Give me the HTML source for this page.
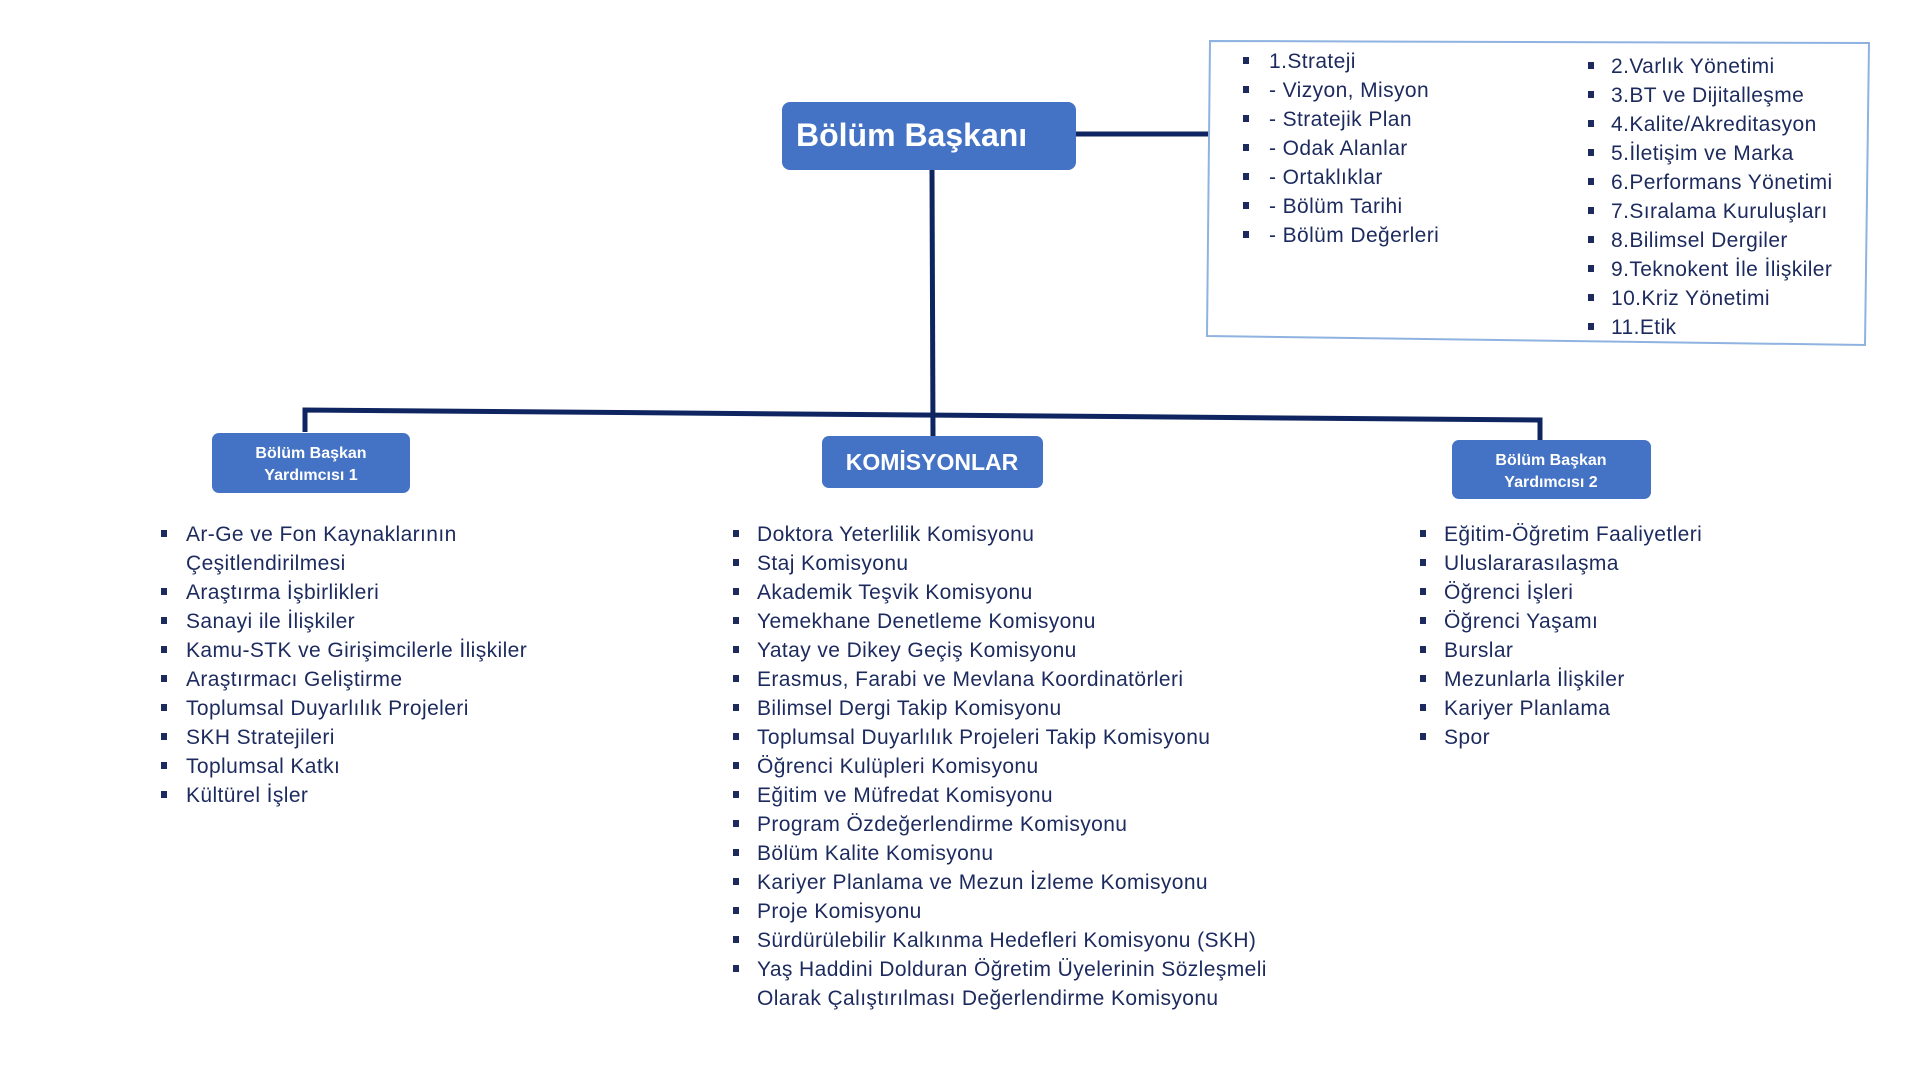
<!DOCTYPE html>
<html><head><meta charset="utf-8"><style>
html,body{margin:0;padding:0;background:#fff;}
svg{display:block;}
text{font-family:"Liberation Sans",sans-serif;}
.t{font-size:21px;letter-spacing:0.4px;fill:#1c2a5e;}
.b{fill:#1c2a5e;}
</style></head><body>
<svg width="1920" height="1080" viewBox="0 0 1920 1080" xmlns="http://www.w3.org/2000/svg">
<g stroke="#0e2561" fill="none" stroke-width="5">
<line x1="1076" y1="134" x2="1210" y2="134"/>
<line x1="932" y1="170" x2="933" y2="438"/>
<polyline points="305,432 305,410 1540,420 1540,440"/>
</g>
<polygon points="1210,41 1869,43 1865,345 1207,336" fill="#fff" stroke="#8fb3e0" stroke-width="2"/>
<rect x="782" y="102" width="294" height="68" rx="8" fill="#4472c4"/>
<text x="796" y="146" font-size="32" font-weight="bold" fill="#fff">Bölüm Başkanı</text>
<rect x="212" y="433" width="198" height="60" rx="7" fill="#4472c4"/>
<text x="311" y="458" font-size="16" font-weight="bold" fill="#fff" text-anchor="middle">Bölüm Başkan</text>
<text x="311" y="480" font-size="16" font-weight="bold" fill="#fff" text-anchor="middle">Yardımcısı 1</text>
<rect x="822" y="436" width="221" height="52" rx="7" fill="#4472c4"/>
<text x="932" y="470" font-size="23" font-weight="bold" fill="#fff" text-anchor="middle">KOMİSYONLAR</text>
<rect x="1452" y="440" width="199" height="59" rx="7" fill="#4472c4"/>
<text x="1551" y="465" font-size="16" font-weight="bold" fill="#fff" text-anchor="middle">Bölüm Başkan</text>
<text x="1551" y="487" font-size="16" font-weight="bold" fill="#fff" text-anchor="middle">Yardımcısı 2</text>

<g>
<text x="1269" y="68" class="t">1.Strateji</text>
<text x="1269" y="97" class="t">- Vizyon, Misyon</text>
<text x="1269" y="126" class="t">- Stratejik Plan</text>
<text x="1269" y="155" class="t">- Odak Alanlar</text>
<text x="1269" y="184" class="t">- Ortaklıklar</text>
<text x="1269" y="213" class="t">- Bölüm Tarihi</text>
<text x="1269" y="242" class="t">- Bölüm Değerleri</text>
</g>
<g class="b">
<rect x="1243" y="57" width="6" height="7"/><rect x="1243" y="86" width="6" height="7"/><rect x="1243" y="115" width="6" height="7"/><rect x="1243" y="144" width="6" height="7"/><rect x="1243" y="173" width="6" height="7"/><rect x="1243" y="202" width="6" height="7"/><rect x="1243" y="231" width="6" height="7"/>
</g>
<g>
<text x="1611" y="73" class="t">2.Varlık Yönetimi</text>
<text x="1611" y="102" class="t">3.BT ve Dijitalleşme</text>
<text x="1611" y="131" class="t">4.Kalite/Akreditasyon</text>
<text x="1611" y="160" class="t">5.İletişim ve Marka</text>
<text x="1611" y="189" class="t">6.Performans Yönetimi</text>
<text x="1611" y="218" class="t">7.Sıralama Kuruluşları</text>
<text x="1611" y="247" class="t">8.Bilimsel Dergiler</text>
<text x="1611" y="276" class="t">9.Teknokent İle İlişkiler</text>
<text x="1611" y="305" class="t">10.Kriz Yönetimi</text>
<text x="1611" y="334" class="t">11.Etik</text>
</g>
<g class="b">
<rect x="1588" y="62" width="6" height="7"/><rect x="1588" y="91" width="6" height="7"/><rect x="1588" y="120" width="6" height="7"/><rect x="1588" y="149" width="6" height="7"/><rect x="1588" y="178" width="6" height="7"/><rect x="1588" y="207" width="6" height="7"/><rect x="1588" y="236" width="6" height="7"/><rect x="1588" y="265" width="6" height="7"/><rect x="1588" y="294" width="6" height="7"/><rect x="1588" y="323" width="6" height="7"/>
</g>

<g>
<text x="186" y="541" class="t">Ar-Ge ve Fon Kaynaklarının</text>
<text x="186" y="570" class="t">Çeşitlendirilmesi</text>
<text x="186" y="599" class="t">Araştırma İşbirlikleri</text>
<text x="186" y="628" class="t">Sanayi ile İlişkiler</text>
<text x="186" y="657" class="t">Kamu-STK ve Girişimcilerle İlişkiler</text>
<text x="186" y="686" class="t">Araştırmacı Geliştirme</text>
<text x="186" y="715" class="t">Toplumsal Duyarlılık Projeleri</text>
<text x="186" y="744" class="t">SKH Stratejileri</text>
<text x="186" y="773" class="t">Toplumsal Katkı</text>
<text x="186" y="802" class="t">Kültürel İşler</text>
</g>
<g class="b">
<rect x="161" y="530" width="6" height="7"/><rect x="161" y="588" width="6" height="7"/><rect x="161" y="617" width="6" height="7"/><rect x="161" y="646" width="6" height="7"/><rect x="161" y="675" width="6" height="7"/><rect x="161" y="704" width="6" height="7"/><rect x="161" y="733" width="6" height="7"/><rect x="161" y="762" width="6" height="7"/><rect x="161" y="791" width="6" height="7"/>
</g>

<g>
<text x="757" y="541" class="t">Doktora Yeterlilik Komisyonu</text>
<text x="757" y="570" class="t">Staj Komisyonu</text>
<text x="757" y="599" class="t">Akademik Teşvik Komisyonu</text>
<text x="757" y="628" class="t">Yemekhane Denetleme Komisyonu</text>
<text x="757" y="657" class="t">Yatay ve Dikey Geçiş Komisyonu</text>
<text x="757" y="686" class="t">Erasmus, Farabi ve Mevlana Koordinatörleri</text>
<text x="757" y="715" class="t">Bilimsel Dergi Takip Komisyonu</text>
<text x="757" y="744" class="t">Toplumsal Duyarlılık Projeleri Takip Komisyonu</text>
<text x="757" y="773" class="t">Öğrenci Kulüpleri Komisyonu</text>
<text x="757" y="802" class="t">Eğitim ve Müfredat Komisyonu</text>
<text x="757" y="831" class="t">Program Özdeğerlendirme Komisyonu</text>
<text x="757" y="860" class="t">Bölüm Kalite Komisyonu</text>
<text x="757" y="889" class="t">Kariyer Planlama ve Mezun İzleme Komisyonu</text>
<text x="757" y="918" class="t">Proje Komisyonu</text>
<text x="757" y="947" class="t">Sürdürülebilir Kalkınma Hedefleri Komisyonu (SKH)</text>
<text x="757" y="976" class="t">Yaş Haddini Dolduran Öğretim Üyelerinin Sözleşmeli</text>
<text x="757" y="1005" class="t">Olarak Çalıştırılması Değerlendirme Komisyonu</text>
</g>
<g class="b">
<rect x="733" y="530" width="6" height="7"/><rect x="733" y="559" width="6" height="7"/><rect x="733" y="588" width="6" height="7"/><rect x="733" y="617" width="6" height="7"/><rect x="733" y="646" width="6" height="7"/><rect x="733" y="675" width="6" height="7"/><rect x="733" y="704" width="6" height="7"/><rect x="733" y="733" width="6" height="7"/><rect x="733" y="762" width="6" height="7"/><rect x="733" y="791" width="6" height="7"/><rect x="733" y="820" width="6" height="7"/><rect x="733" y="849" width="6" height="7"/><rect x="733" y="878" width="6" height="7"/><rect x="733" y="907" width="6" height="7"/><rect x="733" y="936" width="6" height="7"/><rect x="733" y="965" width="6" height="7"/>
</g>

<g>
<text x="1444" y="541" class="t">Eğitim-Öğretim Faaliyetleri</text>
<text x="1444" y="570" class="t">Uluslararasılaşma</text>
<text x="1444" y="599" class="t">Öğrenci İşleri</text>
<text x="1444" y="628" class="t">Öğrenci Yaşamı</text>
<text x="1444" y="657" class="t">Burslar</text>
<text x="1444" y="686" class="t">Mezunlarla İlişkiler</text>
<text x="1444" y="715" class="t">Kariyer Planlama</text>
<text x="1444" y="744" class="t">Spor</text>
</g>
<g class="b">
<rect x="1420" y="530" width="6" height="7"/><rect x="1420" y="559" width="6" height="7"/><rect x="1420" y="588" width="6" height="7"/><rect x="1420" y="617" width="6" height="7"/><rect x="1420" y="646" width="6" height="7"/><rect x="1420" y="675" width="6" height="7"/><rect x="1420" y="704" width="6" height="7"/><rect x="1420" y="733" width="6" height="7"/>
</g>
</svg>
</body></html>
